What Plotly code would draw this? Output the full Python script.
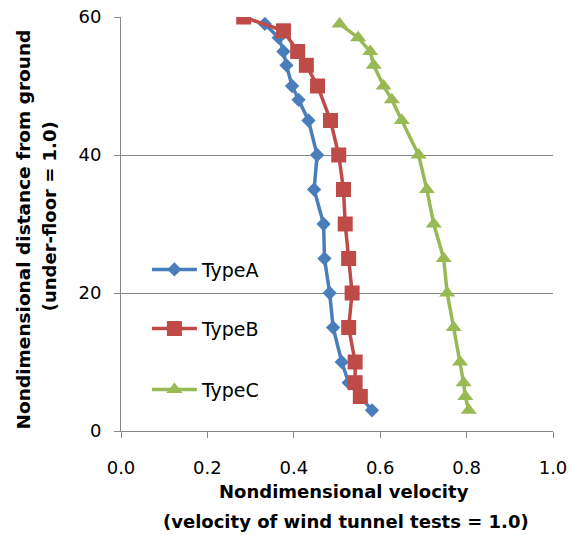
import plotly.graph_objects as go

# Data
height_a = [59, 57, 55, 53, 50, 48, 45, 40, 35, 30, 25, 20, 15, 10, 7, 3]
vel_a = [0.333, 0.365, 0.376, 0.383, 0.396, 0.411, 0.434, 0.454, 0.447, 0.469, 0.471, 0.483, 0.491, 0.511, 0.527, 0.581]

height_b = [60, 58, 55, 53, 50, 45, 40, 35, 30, 25, 20, 15, 10, 7, 5]
vel_b = [0.284, 0.376, 0.409, 0.429, 0.455, 0.485, 0.504, 0.515, 0.519, 0.527, 0.535, 0.527, 0.542, 0.542, 0.554]

height_c = [59, 57, 55, 53, 50, 48, 45, 40, 35, 30, 25, 20, 15, 10, 7, 5, 3]
vel_c = [0.506, 0.549, 0.577, 0.585, 0.608, 0.627, 0.650, 0.689, 0.708, 0.724, 0.747, 0.755, 0.770, 0.785, 0.793, 0.797, 0.805]

x_ticks = [0.0, 0.2, 0.4, 0.6, 0.8, 1.0]
x_tick_labels = ["0.0", "0.2", "0.4", "0.6", "0.8", "1.0"]
y_ticks = [0, 20, 40, 60]

FONT = "DejaVu Sans, Liberation Sans, sans-serif"
BLUE = "#4A7EBB"
RED = "#BE4B48"
GREEN = "#98B954"

fig = go.Figure()
fig.add_trace(go.Scatter(x=vel_a, y=height_a, mode="lines+markers", name="TypeA",
                         line=dict(color=BLUE, width=3.5),
                         marker=dict(symbol="diamond", size=11, color=BLUE),
                         legend="legend"))
fig.add_trace(go.Scatter(x=vel_b, y=height_b, mode="lines+markers", name="TypeB",
                         line=dict(color=RED, width=3.5),
                         marker=dict(symbol="square", size=15, color=RED),
                         legend="legend2"))
fig.add_trace(go.Scatter(x=vel_c, y=height_c, mode="lines+markers", name="TypeC",
                         line=dict(color=GREEN, width=3.5),
                         marker=dict(symbol="triangle-up", size=14, color=GREEN),
                         legend="legend3"))

legend_common = dict(xanchor="left", yanchor="middle", bgcolor="rgba(0,0,0,0)",
                     font=dict(family=FONT, size=19, color="#000000"), itemwidth=45)

fig.update_layout(
    template="none",
    width=569, height=535,
    margin=dict(l=121, r=16, t=17, b=104, autoexpand=False),
    paper_bgcolor="white", plot_bgcolor="white",
    font=dict(family=FONT, size=18, color="#000000"),
    showlegend=True,
    legend=dict(x=0.06, y=0.39, **legend_common),
    legend2=dict(x=0.06, y=0.247, **legend_common),
    legend3=dict(x=0.06, y=0.10, **legend_common),
    xaxis=dict(range=[0, 1], tickvals=x_ticks, ticktext=x_tick_labels, automargin=False,
               showgrid=False, zeroline=False, showline=True, linecolor="#868686", linewidth=1,
               ticks="outside", ticklen=6, tickcolor="#868686",
               ticklabelstandoff=14,
               tickfont=dict(family=FONT, size=18, color="#000000")),
    yaxis=dict(range=[0, 60], tickvals=y_ticks, automargin=False,
               showgrid=True, gridcolor="#868686", gridwidth=1,
               zeroline=False, showline=True, linecolor="#868686", linewidth=1,
               ticks="outside", ticklen=6, tickcolor="#868686",
               ticklabelstandoff=9,
               tickfont=dict(family=FONT, size=18, color="#000000")),
)

title_font = dict(family=FONT, size=18, color="#000000")
fig.add_annotation(text="<b>Nondimensional velocity</b>", xref="paper", yref="paper",
                   x=0.516, y=-0.147, showarrow=False, font=title_font,
                   xanchor="center", yanchor="middle")
fig.add_annotation(text="<b>(velocity of wind tunnel tests = 1.0)</b>", xref="paper", yref="paper",
                   x=0.521, y=-0.218, showarrow=False, font=title_font,
                   xanchor="center", yanchor="middle")
fig.add_annotation(text="<b>Nondimensional distance from ground</b>", xref="paper", yref="paper",
                   x=-0.225, y=0.4865, showarrow=False, font=dict(family=FONT, size=18.5, color="#000000"),
                   textangle=-90, xanchor="center", yanchor="middle")
fig.add_annotation(text="<b>(under-floor = 1.0)</b>", xref="paper", yref="paper",
                   x=-0.165, y=0.518, showarrow=False, font=title_font, textangle=-90,
                   xanchor="center", yanchor="middle")

fig.write_html("out.html")
